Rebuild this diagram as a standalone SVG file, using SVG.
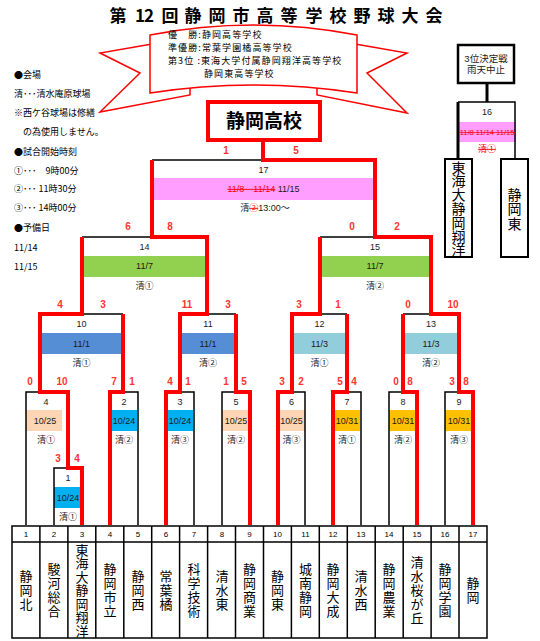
<svg xmlns="http://www.w3.org/2000/svg" width="540" height="641" viewBox="0 0 540 641">
<style>
.bl{fill:none;stroke:#000;stroke-width:1.5}
.rd{fill:none;stroke:#f00;stroke-width:4;stroke-linejoin:miter}
.rib{fill:#fff;stroke:#f00;stroke-width:1.5;stroke-linejoin:miter}
.t{font-family:"Liberation Sans","Noto Sans CJK JP",sans-serif;font-size:9px;text-anchor:middle;fill:#1a1a1a}
.s{font-family:"Liberation Sans",sans-serif;font-size:10px;font-weight:bold;text-anchor:middle;fill:#ff3333}
.info{font-family:"Noto Sans CJK JP",sans-serif;font-size:9px;fill:#000}
.rt{font-family:"Noto Sans CJK JP",sans-serif;font-size:9px;letter-spacing:1.1px;fill:#000}
.tm{font-family:"Noto Sans CJK JP",sans-serif;font-size:13px;text-anchor:middle;fill:#000}
.tn{font-family:"Liberation Sans",sans-serif;font-size:8px;text-anchor:middle;fill:#000}
.strike{text-decoration:line-through;fill:#f00}
.pink{fill:#ff9eff}.green{fill:#92d050}.blue{fill:#558ed5}.lblue{fill:#92cddc}.peach{fill:#fcd5b4}.cyan{fill:#00b0f0}.orange{fill:#ffc000}
</style>

<g id="title">
<text x="118 140 149 170 193 217 241 265 289 314 338 362 386 410 434" y="22" style="font-family:'Noto Sans CJK JP',sans-serif;font-size:17px;font-weight:bold;text-anchor:middle;fill:#000">第12回静岡市高等学校野球大会</text>
</g>

<g id="ribbon">
<polygon class="rib" points="152,44 100,53 140,73 100,112 190,95 190,88"/>
<polygon class="rib" points="355,44 407,53 367,73 407,113 317,95 317,88"/>
<path class="rib" d="M150,35 Q253,15 357,35 L357,93 Q253,77 150,93 Z"/>
<text class="rt" x="168" y="38">優　勝:静岡高等学校</text>
<text class="rt" x="168" y="51">準優勝:常葉学園橘高等学校</text>
<text class="rt" x="168" y="64">第3位 :東海大学付属静岡翔洋高等学校</text>
<text class="rt" x="204" y="77">静岡東高等学校</text>
</g>

<g id="info">
<text class="info" x="14" y="78">●会場</text>
<text class="info" x="14" y="97">清･･･清水庵原球場</text>
<text class="info" x="14" y="116">※西ケ谷球場は修繕</text>
<text class="info" x="14" y="135">　の為使用しません。</text>
<text class="info" x="14" y="155">●試合開始時刻</text>
<text class="info" x="14" y="174">①･･･　9時00分</text>
<text class="info" x="14" y="192">②･･･ 11時30分</text>
<text class="info" x="14" y="211">③･･･ 14時00分</text>
<text class="info" x="14" y="231">●予備日</text>
<text class="info" x="14" y="251">11/14</text>
<text class="info" x="14" y="270">11/15</text>
</g>

<g id="champion">
<rect x="208" y="102" width="112" height="38" fill="#fff" stroke="#f00" stroke-width="4"/>
<text x="264" y="128" style="font-family:'Noto Sans CJK JP',sans-serif;font-size:19px;font-weight:bold;text-anchor:middle;fill:#000">静岡高校</text>
</g>

<g id="third-note">
<rect x="458" y="45" width="56" height="38" fill="#fff" stroke="#000" stroke-width="2.5"/>
<text class="t" x="486" y="62" style="font-size:9.5px">3位決定戦</text>
<text class="t" x="486" y="73" style="font-size:9.5px">雨天中止</text>
</g>

<g id="m16">
<rect class="pink" x="458" y="122" width="58" height="20"/>
<path class="bl" d="M458,102 H515 V159"/>
<path d="M458,102 V159" stroke="#000" stroke-width="3"/>
<text class="t" x="487" y="115">16</text>
<text class="t strike" x="487" y="135" style="font-size:7.5px">11/8 11/14 11/15</text>
<text class="t strike" x="487" y="152">清①</text>
</g>

<g id="team-3a">
<rect x="445" y="159" width="27" height="98" fill="#fff" stroke="#000" stroke-width="2"/>
<text class="tm" style="font-size:14px" x="458.5 458.5 458.5 458.5 458.5 458.5 458.5" y="172.5 186.3 200.1 213.9 227.7 241.5 255">東海大静岡翔洋</text>
</g>
<g id="team-3b">
<rect x="501" y="159" width="27" height="98" fill="#fff" stroke="#000" stroke-width="2"/>
<text class="tm" style="font-size:14px" x="514.5 514.5 514.5" y="199.5 214 228.5">静岡東</text>
</g>

<g id="m17">
<rect class="pink" x="152" y="178" width="223" height="22"/>
<path class="bl" d="M152,160 H375"/>
<text class="t" x="263.5" y="173">17</text>
<text class="t" x="263.5" y="192"><tspan class="strike">11/8　11/14</tspan> 11/15</text>
<text class="t" x="265" y="211">清<tspan class="strike">②</tspan>13:00～</text>
<text class="s" x="226" y="154">1</text>
<text class="s" x="296" y="154">5</text>
</g>

<g id="m14">
<rect class="green" x="82" y="256" width="125" height="21"/>
<path class="bl" d="M82,237 H152"/>
<text class="t" x="144.5" y="250">14</text>
<text class="t" x="144.5" y="269">11/7</text>
<text class="t" x="144.5" y="289">清①</text>
<text class="s" x="128" y="230">6</text>
<text class="s" x="170" y="230">8</text>
</g>
<g id="m15">
<rect class="green" x="320" y="256" width="110" height="21"/>
<path class="bl" d="M320,237 H375"/>
<text class="t" x="375" y="250">15</text>
<text class="t" x="375" y="269">11/7</text>
<text class="t" x="375" y="289">清②</text>
<text class="s" x="352" y="230">0</text>
<text class="s" x="397" y="230">2</text>
</g>

<g id="m10">
<rect class="blue" x="40" y="333" width="83" height="21"/>
<path class="bl" d="M82,314 H123"/>
<text class="t" x="81.5" y="327">10</text>
<text class="t" x="81.5" y="347">11/1</text>
<text class="t" x="81.5" y="366">清①</text>
<text class="s" x="60" y="308">4</text>
<text class="s" x="103" y="308">3</text>
</g>
<g id="m11">
<rect class="blue" x="180" y="333" width="56" height="21"/>
<path class="bl" d="M207,314 H236"/>
<text class="t" x="208" y="327">11</text>
<text class="t" x="208" y="347">11/1</text>
<text class="t" x="208" y="366">清②</text>
<text class="s" x="187" y="308">11</text>
<text class="s" x="228" y="308">3</text>
</g>
<g id="m12">
<rect class="lblue" x="292" y="333" width="55" height="21"/>
<path class="bl" d="M320,314 H347"/>
<text class="t" x="319.5" y="327">12</text>
<text class="t" x="319.5" y="347">11/3</text>
<text class="t" x="319.5" y="366">清①</text>
<text class="s" x="299" y="308">3</text>
<text class="s" x="338" y="308">1</text>
</g>
<g id="m13">
<rect class="lblue" x="403" y="333" width="56" height="21"/>
<path class="bl" d="M403,314 H431"/>
<text class="t" x="431" y="327">13</text>
<text class="t" x="431" y="347">11/3</text>
<text class="t" x="431" y="366">清②</text>
<text class="s" x="408" y="308">0</text>
<text class="s" x="453" y="308">10</text>
</g>

<g id="m4">
<rect class="peach" x="26" y="410" width="36" height="21"/>
<path class="bl" d="M40,392 H26 V525"/>
<text class="t" x="46" y="405">4</text>
<text class="t" x="45" y="424">10/25</text>
<text class="t" x="46" y="443">清①</text>
<text class="s" x="30" y="385">0</text>
<text class="s" x="62" y="385">10</text>
</g>
<g id="m1">
<rect class="cyan" x="54" y="487" width="28" height="21"/>
<path class="bl" d="M68,468 H54 V525"/>
<text class="t" x="68" y="481">1</text>
<text class="t" x="68" y="501">10/24</text>
<text class="t" x="68" y="520">清①</text>
<text class="s" x="58" y="462">3</text>
<text class="s" x="77" y="462">4</text>
</g>
<g id="m2">
<rect class="cyan" x="110" y="410" width="27" height="21"/>
<path class="bl" d="M123,392 H138 V525"/>
<text class="t" x="124" y="405">2</text>
<text class="t" x="124" y="424">10/24</text>
<text class="t" x="124" y="443">清②</text>
<text class="s" x="114" y="385">7</text>
<text class="s" x="132" y="385">1</text>
</g>
<g id="m3">
<rect class="cyan" x="166" y="410" width="27" height="21"/>
<path class="bl" d="M180,392 H194 V525"/>
<text class="t" x="180" y="405">3</text>
<text class="t" x="180" y="424">10/24</text>
<text class="t" x="180" y="443">清③</text>
<text class="s" x="170" y="385">4</text>
<text class="s" x="188" y="385">1</text>
</g>
<g id="m5">
<rect class="peach" x="222" y="410" width="27" height="21"/>
<path class="bl" d="M236,392 H222 V525"/>
<text class="t" x="236" y="405">5</text>
<text class="t" x="236" y="424">10/25</text>
<text class="t" x="236" y="443">清②</text>
<text class="s" x="226" y="385">1</text>
<text class="s" x="244" y="385">5</text>
</g>
<g id="m6">
<rect class="peach" x="278" y="410" width="27" height="21"/>
<path class="bl" d="M292,392 H305 V525"/>
<text class="t" x="291.5" y="405">6</text>
<text class="t" x="291.5" y="424">10/25</text>
<text class="t" x="291.5" y="443">清③</text>
<text class="s" x="282" y="385">3</text>
<text class="s" x="301" y="385">2</text>
</g>
<g id="m7">
<rect class="orange" x="333" y="410" width="27" height="21"/>
<path class="bl" d="M347,392 H361 V525"/>
<text class="t" x="347" y="405">7</text>
<text class="t" x="347" y="424">10/31</text>
<text class="t" x="347" y="443">清①</text>
<text class="s" x="340" y="385">5</text>
<text class="s" x="354" y="385">4</text>
</g>
<g id="m8">
<rect class="orange" x="389" y="410" width="27" height="21"/>
<path class="bl" d="M403,392 H389 V525"/>
<text class="t" x="403" y="405">8</text>
<text class="t" x="403" y="424">10/31</text>
<text class="t" x="403" y="443">清②</text>
<text class="s" x="396" y="385">0</text>
<text class="s" x="410" y="385">8</text>
</g>
<g id="m9">
<rect class="orange" x="445" y="410" width="27" height="21"/>
<path class="bl" d="M459,392 H445 V525"/>
<text class="t" x="459" y="405">9</text>
<text class="t" x="459" y="424">10/31</text>
<text class="t" x="459" y="443">清③</text>
<text class="s" x="452" y="385">3</text>
<text class="s" x="466" y="385">8</text>
</g>

<g id="teams">
<rect x="12" y="526" width="475" height="112" fill="#fff" stroke="#000" stroke-width="1.5"/>
<path class="bl" d="M12,542 H487 M39.9,526 V638 M67.9,526 V638 M95.8,526 V638 M123.8,526 V638 M151.7,526 V638 M179.6,526 V638 M207.6,526 V638 M235.5,526 V638 M263.5,526 V638 M291.4,526 V638 M319.3,526 V638 M347.3,526 V638 M375.2,526 V638 M403.2,526 V638 M431.1,526 V638 M459,526 V638"/>
<text class="tn" x="26" y="537">1</text>
<text class="tn" x="54" y="537">2</text>
<text class="tn" x="82" y="537">3</text>
<text class="tn" x="110" y="537">4</text>
<text class="tn" x="138" y="537">5</text>
<text class="tn" x="166" y="537">6</text>
<text class="tn" x="194" y="537">7</text>
<text class="tn" x="222" y="537">8</text>
<text class="tn" x="249.5" y="537">9</text>
<text class="tn" x="277.5" y="537">10</text>
<text class="tn" x="305.5" y="537">11</text>
<text class="tn" x="333" y="537">12</text>
<text class="tn" x="361" y="537">13</text>
<text class="tn" x="389" y="537">14</text>
<text class="tn" x="417" y="537">15</text>
<text class="tn" x="445" y="537">16</text>
<text class="tn" x="473" y="537">17</text>
<text class="tm" x="26 26 26" y="581 595 609">静岡北</text>
<text class="tm" x="54 54 54 54" y="574 588 602 616">駿河総合</text>
<text class="tm" x="82 82 82 82 82 82 82" y="554.5 568 581.5 595 608.5 622 635.5">東海大静岡翔洋</text>
<text class="tm" x="110 110 110 110" y="574 588 602 616">静岡市立</text>
<text class="tm" x="138 138 138" y="581 595 609">静岡西</text>
<text class="tm" x="166 166 166" y="581 595 609">常葉橘</text>
<text class="tm" x="194 194 194 194" y="574 588 602 616">科学技術</text>
<text class="tm" x="222 222 222" y="581 595 609">清水東</text>
<text class="tm" x="249.5 249.5 249.5 249.5" y="574 588 602 616">静岡商業</text>
<text class="tm" x="277.5 277.5 277.5" y="581 595 609">静岡東</text>
<text class="tm" x="305.5 305.5 305.5 305.5" y="574 588 602 616">城南静岡</text>
<text class="tm" x="333 333 333 333" y="574 588 602 616">静岡大成</text>
<text class="tm" x="361 361 361" y="581 595 609">清水西</text>
<text class="tm" x="389 389 389 389" y="574 588 602 616">静岡農業</text>
<text class="tm" x="417 417 417 417 417" y="567 581 595 609 623">清水桜が丘</text>
<text class="tm" x="445 445 445 445" y="574 588 602 616">静岡学園</text>
<text class="tm" x="473 473" y="588 602">静岡</text>
</g>

<g id="connectors">
<path d="M487,83 V102" stroke="#000" stroke-width="3"/>
<path class="rd" d="M473,525 V392 H459 V314 H431 V237 H375 V160 H263 V140"/>
<path class="rd" d="M166,525 V392 H180 V314 H207 V237 H152 V160"/>
<path class="rd" d="M82,525 V468 H68 V392 H40 V314 H82 V237"/>
<path class="rd" d="M278,525 V392 H292 V314 H320 V237"/>
<path class="rd" d="M110,525 V392 H123 V314"/>
<path class="rd" d="M250,525 V392 H236 V314"/>
<path class="rd" d="M333,525 V392 H347 V314"/>
<path class="rd" d="M417,525 V392 H403 V314"/>
</g>
</svg>
